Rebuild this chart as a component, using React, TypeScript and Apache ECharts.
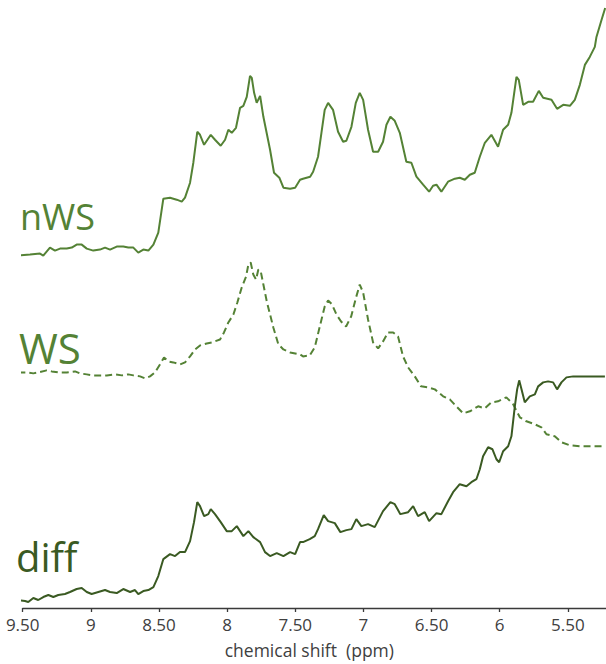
import React, { useEffect, useRef } from "react";
import * as echarts from "echarts";

// chemical shift (ppm) and relative intensity (a.u., above each trace's own baseline)
const nwsPpm = [9.532, 9.446, 9.373, 9.349, 9.3, 9.263, 9.226, 9.177, 9.14, 9.104, 9.067, 9.03, 8.982, 8.933, 8.896, 8.859, 8.81, 8.762, 8.725, 8.688, 8.652, 8.615, 8.578, 8.541, 8.505, 8.468, 8.419, 8.37, 8.333, 8.309, 8.272, 8.248, 8.219, 8.199, 8.169, 8.12, 8.089, 8.047, 8.015, 7.991, 7.966, 7.935, 7.905, 7.881, 7.856, 7.832, 7.819, 7.802, 7.783, 7.758, 7.734, 7.685, 7.656, 7.617, 7.587, 7.538, 7.501, 7.465, 7.443, 7.391, 7.369, 7.333, 7.308, 7.284, 7.259, 7.223, 7.186, 7.149, 7.125, 7.088, 7.056, 7.027, 7.002, 6.966, 6.929, 6.892, 6.856, 6.831, 6.802, 6.77, 6.733, 6.685, 6.648, 6.611, 6.562, 6.518, 6.489, 6.464, 6.428, 6.379, 6.329, 6.293, 6.256, 6.219, 6.183, 6.146, 6.109, 6.061, 6.012, 5.975, 5.938, 5.914, 5.877, 5.86, 5.828, 5.791, 5.755, 5.713, 5.681, 5.62, 5.579, 5.534, 5.485, 5.449, 5.412, 5.375, 5.339, 5.302, 5.29, 5.253, 5.226];
const nwsInt = [0, 1, 2, 0, 8, 5, 7, 7, 8, 11, 11, 7, 5, 6, 8, 6, 9, 9, 8, 8, 3, 6, 5, 11, 23, 57, 58, 56, 54, 58, 73, 93, 124, 121, 111, 121, 116, 110, 116, 126, 123, 128, 148, 150, 159, 180, 178, 163, 153, 160, 139, 106, 83, 78, 68, 67, 68, 76, 77, 79, 84, 99, 123, 146, 153, 146, 124, 114, 115, 129, 153, 163, 156, 126, 104, 104, 114, 131, 139, 135, 123, 94, 93, 79, 71, 64, 70, 71, 64, 74, 77, 78, 76, 81, 83, 99, 113, 121, 109, 126, 131, 143, 179, 176, 151, 154, 154, 165, 158, 156, 147, 151, 150, 156, 171, 191, 199, 209, 219, 236, 248];

const wsPpm = [9.532, 9.471, 9.422, 9.386, 9.324, 9.287, 9.239, 9.177, 9.116, 9.079, 9.03, 8.982, 8.933, 8.883, 8.823, 8.773, 8.725, 8.688, 8.639, 8.602, 8.566, 8.529, 8.493, 8.463, 8.431, 8.395, 8.345, 8.309, 8.272, 8.235, 8.199, 8.15, 8.113, 8.052, 8.023, 7.991, 7.954, 7.925, 7.893, 7.861, 7.844, 7.827, 7.808, 7.788, 7.771, 7.753, 7.734, 7.709, 7.685, 7.661, 7.624, 7.587, 7.538, 7.465, 7.443, 7.394, 7.357, 7.32, 7.284, 7.259, 7.23, 7.198, 7.164, 7.127, 7.09, 7.054, 7.027, 7.002, 6.966, 6.929, 6.892, 6.856, 6.819, 6.782, 6.746, 6.709, 6.672, 6.623, 6.577, 6.525, 6.476, 6.415, 6.366, 6.318, 6.268, 6.219, 6.158, 6.109, 6.061, 6.012, 5.951, 5.901, 5.852, 5.804, 5.742, 5.694, 5.657, 5.596, 5.547, 5.485, 5.412, 5.314, 5.228];
const wsInt = [0, 0, -1, 0, 2, 1, 0, 0, 1, -1, -2, -3, -3, -3, -2, -3, -2, -3, -4, -6, -4, 0, 8, 15, 11, 10, 8, 10, 16, 23, 27, 29, 30, 33, 40, 50, 58, 70, 85, 96, 108, 110, 98, 93, 103, 101, 88, 71, 58, 45, 28, 23, 20, 18, 16, 17, 25, 46, 66, 72, 68, 58, 51, 46, 56, 75, 88, 80, 53, 30, 24, 31, 40, 40, 36, 16, 5, -4, -14, -15, -17, -24, -27, -34, -41, -39, -34, -36, -30, -29, -25, -32, -45, -49, -52, -55, -62, -64, -70, -73, -74, -74, -74];

const diffPpm = [9.532, 9.483, 9.459, 9.422, 9.386, 9.349, 9.312, 9.275, 9.239, 9.19, 9.153, 9.104, 9.067, 9.03, 8.994, 8.945, 8.896, 8.859, 8.81, 8.762, 8.712, 8.676, 8.652, 8.615, 8.578, 8.541, 8.505, 8.468, 8.419, 8.382, 8.346, 8.309, 8.272, 8.243, 8.219, 8.199, 8.169, 8.138, 8.12, 8.089, 8.047, 8.003, 7.966, 7.929, 7.881, 7.844, 7.808, 7.758, 7.722, 7.685, 7.636, 7.587, 7.538, 7.501, 7.465, 7.443, 7.394, 7.357, 7.333, 7.291, 7.259, 7.21, 7.169, 7.125, 7.088, 7.052, 7.015, 6.966, 6.917, 6.856, 6.802, 6.77, 6.729, 6.672, 6.635, 6.599, 6.55, 6.518, 6.464, 6.428, 6.379, 6.342, 6.293, 6.244, 6.208, 6.171, 6.146, 6.122, 6.085, 6.053, 6.024, 6.004, 5.975, 5.938, 5.914, 5.889, 5.872, 5.857, 5.84, 5.816, 5.779, 5.742, 5.718, 5.681, 5.645, 5.608, 5.579, 5.547, 5.51, 5.461, 5.364, 5.228];
const diffInt = [0, -1, -2, 2, 0, 3, 5, 3, 5, 6, 8, 11, 12, 8, 6, 8, 10, 8, 7, 11, 8, 10, 6, 9, 10, 13, 24, 41, 46, 44, 48, 48, 59, 78, 98, 94, 84, 86, 91, 86, 78, 69, 69, 74, 64, 69, 63, 58, 48, 44, 47, 44, 48, 46, 58, 58, 61, 64, 71, 85, 79, 77, 68, 70, 71, 81, 74, 76, 73, 89, 98, 96, 86, 88, 94, 84, 88, 79, 87, 86, 99, 108, 116, 114, 118, 121, 131, 144, 153, 151, 141, 138, 149, 154, 164, 194, 211, 220, 211, 198, 204, 206, 214, 218, 219, 218, 211, 218, 223, 224, 224, 224];

const traceNames = ["nWS", "WS", "diff"];
const tickValues = [9.5, 9, 8.5, 8, 7.5, 7, 6.5, 6, 5.5];
const tickLabels = ["9.50", "9", "8.50", "8", "7.50", "7", "6.50", "6", "5.50"];
const axisTitle = "chemical shift  (ppm)";

// layout: vertical offset of each trace's baseline in the stacked plot
const OFFSETS = [353, 236, 8];
const GREEN = "#548235";
const DARK_GREEN = "#3a5a22";
const FONT = "'Open Sans', 'Noto Sans', sans-serif";

export default function App() {
  const ref = useRef<HTMLDivElement>(null);
  useEffect(() => {
    if (!ref.current) return;
    const chart = echarts.init(ref.current, undefined, { renderer: "svg" });
    const mk = (ppm: number[], vals: number[], off: number) =>
      ppm.map((p, i) => [p, vals[i] + off]);
    const option: any = {
      animation: false,
      grid: { left: 22.7, right: 0, top: 0, bottom: 664 - 609 },
      xAxis: {
        type: "value",
        inverse: true,
        min: 5.22,
        max: 9.5,
        name: axisTitle,
        nameLocation: "middle",
        nameGap: 33,
        nameTextStyle: {
          fontFamily: FONT,
          fontSize: 17.5,
          color: "#404040",
          padding: [0, 10, 0, 0],
        },
        axisLine: { show: true, lineStyle: { color: "#3a3a3a", width: 1.3 } },
        axisTick: {
          show: true,
          length: 4,
          customValues: tickValues,
          lineStyle: { color: "#3a3a3a", width: 1.3 },
        },
        axisLabel: {
          customValues: tickValues,
          margin: 8,
          fontFamily: FONT,
          fontSize: 17,
          color: "#404040",
          formatter: (v: number) => {
            const i = tickValues.findIndex((t) => Math.abs(t - v) < 1e-6);
            return i >= 0 ? tickLabels[i] : "";
          },
        },
        splitLine: { show: false },
      },
      yAxis: {
        type: "value",
        min: 0,
        max: 609,
        show: false,
        splitLine: { show: false },
      },
      graphic: [
        {
          type: "text",
          x: 20,
          y: 216,
          style: { text: traceNames[0], fill: GREEN, font: `36px ${FONT}`, textVerticalAlign: "middle" },
        },
        {
          type: "text",
          x: 19,
          y: 347,
          style: { text: traceNames[1], fill: GREEN, font: `42px ${FONT}`, textVerticalAlign: "middle" },
        },
        {
          type: "text",
          x: 16,
          y: 556,
          style: { text: traceNames[2], fill: DARK_GREEN, font: `40px ${FONT}`, textVerticalAlign: "middle" },
        },
      ],
      series: [
        {
          name: traceNames[0],
          type: "line",
          data: mk(nwsPpm, nwsInt, OFFSETS[0]),
          showSymbol: false,
          symbol: "none",
          clip: false,
          lineStyle: { color: GREEN, width: 2 },
        },
        {
          name: traceNames[1],
          type: "line",
          data: mk(wsPpm, wsInt, OFFSETS[1]),
          showSymbol: false,
          symbol: "none",
          clip: false,
          lineStyle: { color: GREEN, width: 2, type: [7, 4] },
        },
        {
          name: traceNames[2],
          type: "line",
          data: mk(diffPpm, diffInt, OFFSETS[2]),
          showSymbol: false,
          symbol: "none",
          clip: false,
          lineStyle: { color: DARK_GREEN, width: 2 },
        },
      ],
    };
    chart.setOption(option);
    return () => chart.dispose();
  }, []);
  return (
    <div
      ref={ref}
      style={{ position: "absolute", left: 0, top: 0, width: 606, height: 664 }}
    />
  );
}
